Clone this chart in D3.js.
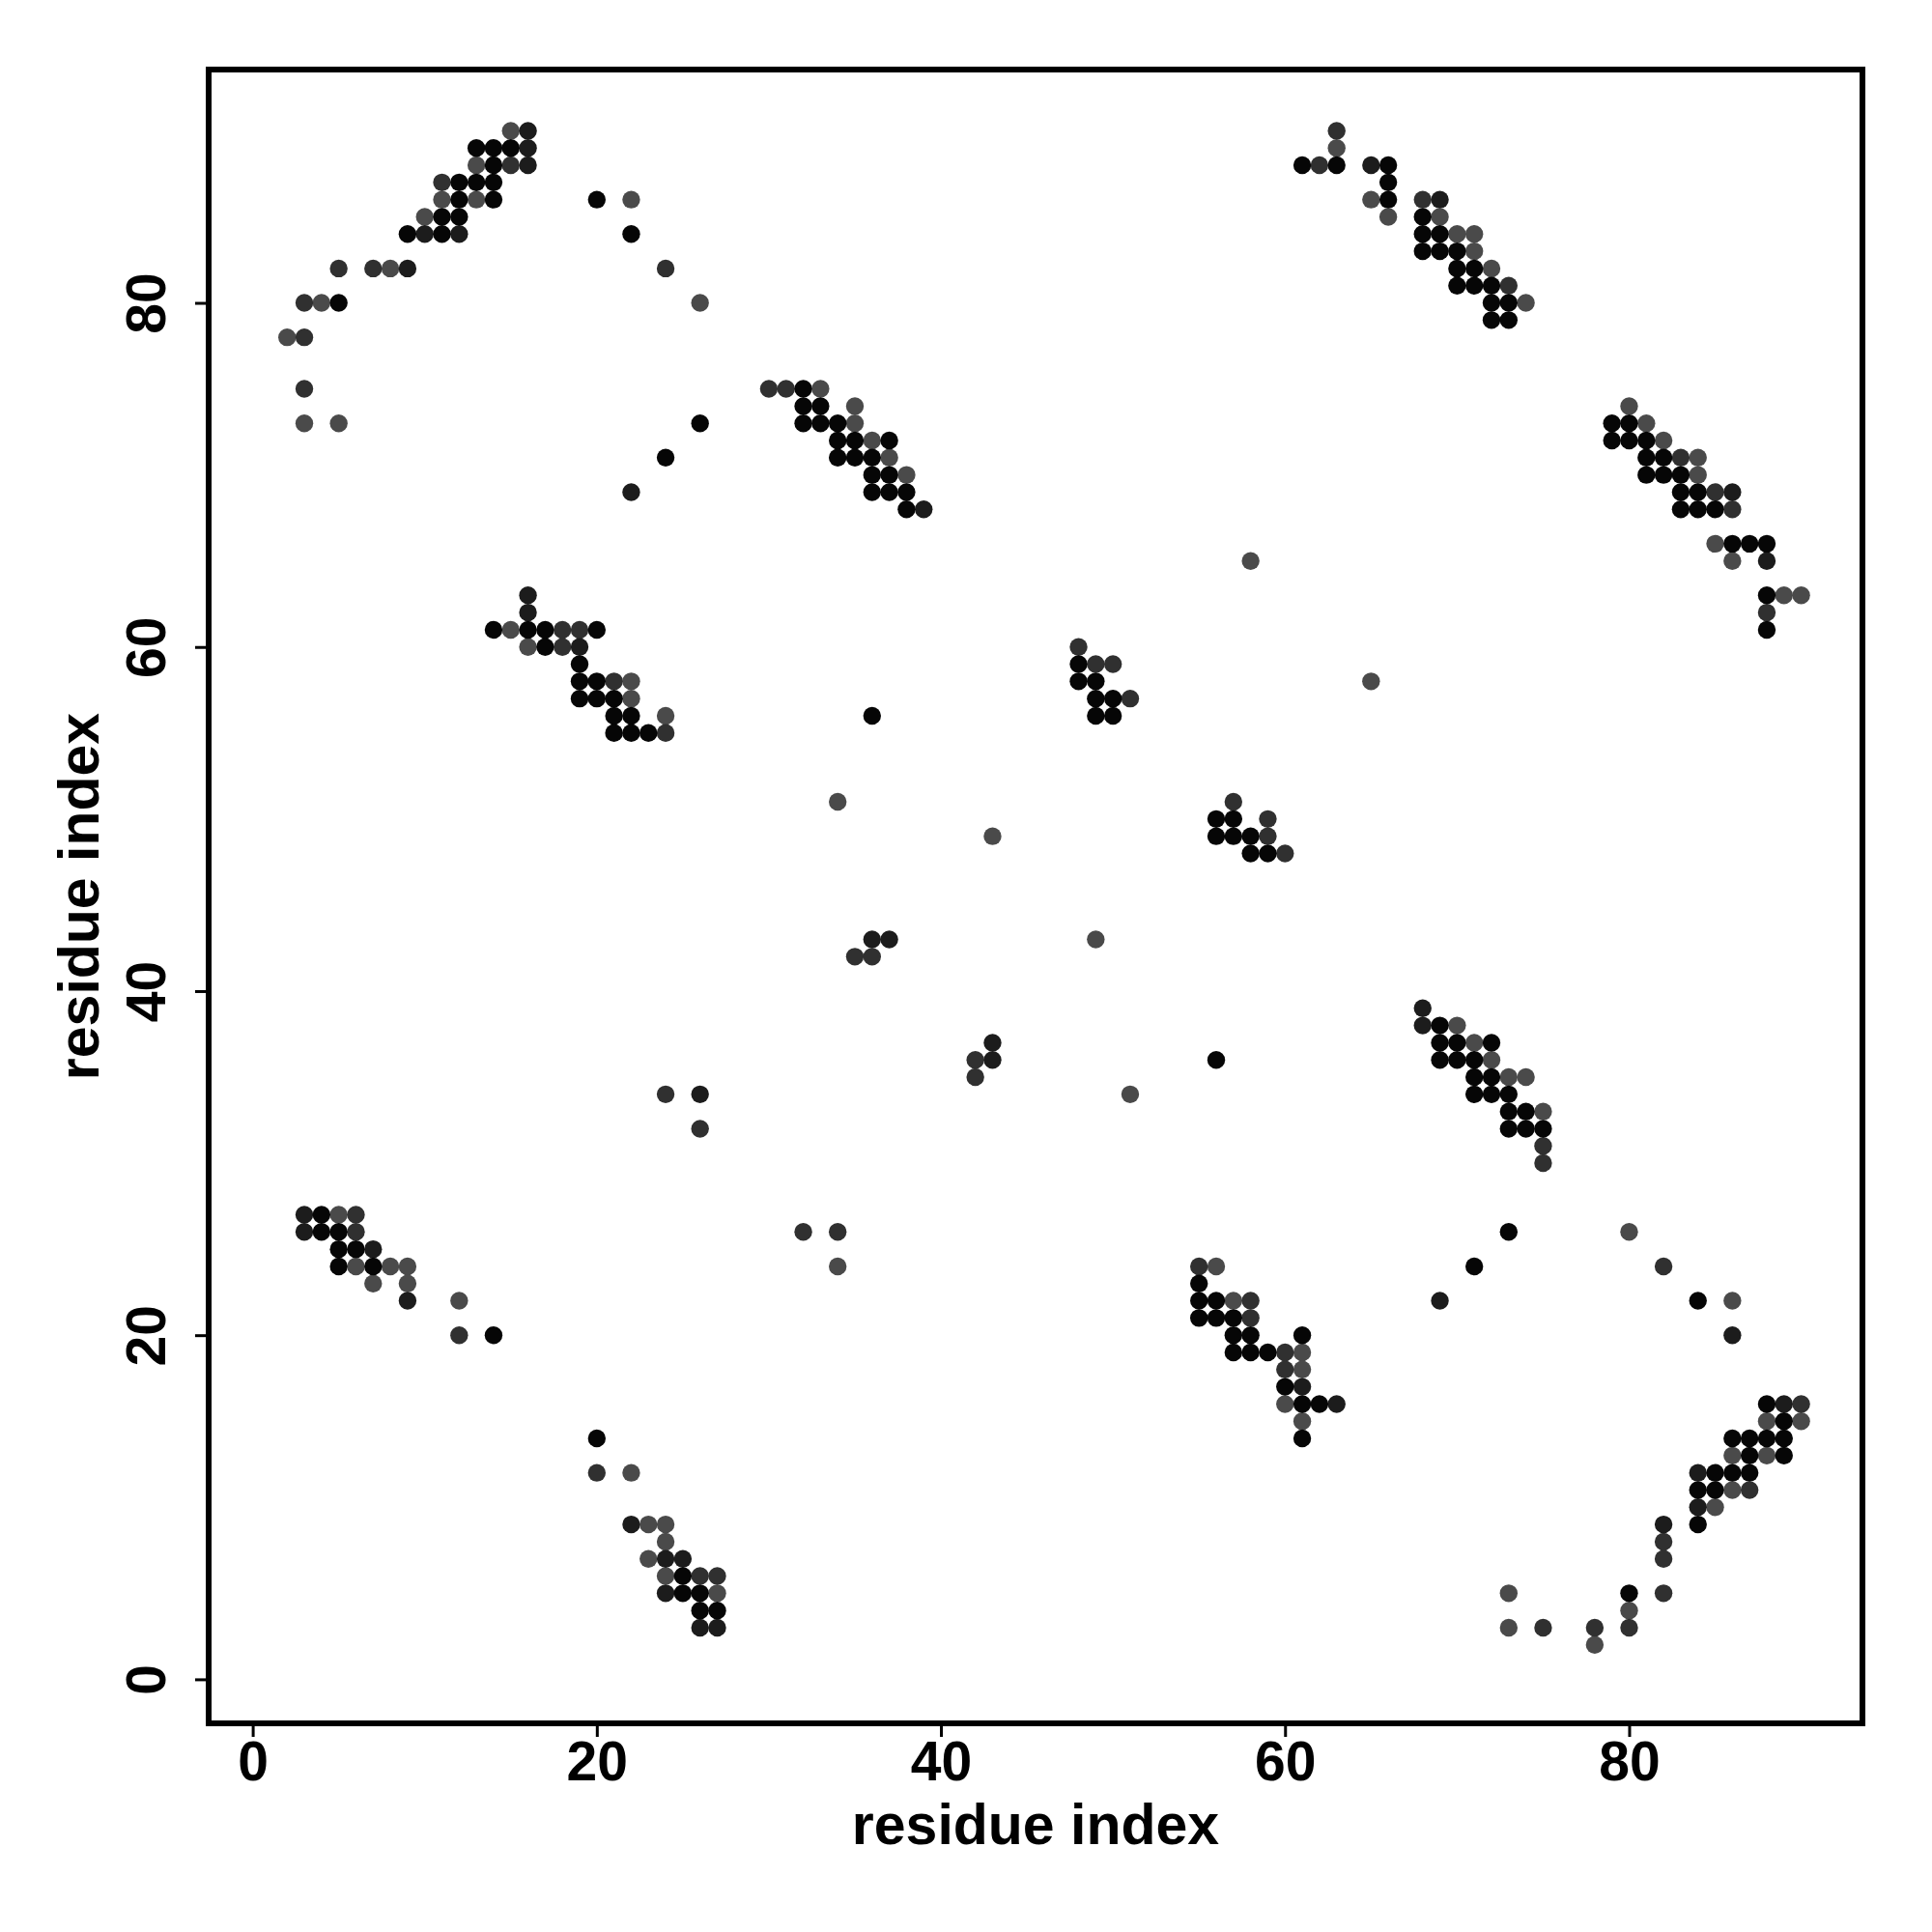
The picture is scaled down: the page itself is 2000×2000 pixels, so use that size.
<!DOCTYPE html>
<html>
<head>
<meta charset="utf-8">
<script src="https://cdn.jsdelivr.net/npm/d3@7"></script>
<style>
  html, body { margin: 0; padding: 0; background: #fff; }
  svg { display: block; }
  text { font-family: "Liberation Sans", Arial, Helvetica, sans-serif; font-weight: bold; }
</style>
</head>
<body>
<svg id="chart" width="2000" height="2000"></svg>
<script>
// ---- data: contacts (residue i, residue j) grouped by contact strength ----
const contactsBlack = [
  [13,89],[14,89],[15,89],[14,88],[12,87],[13,87],[14,87],[12,86],[14,86],[20,86],[11,85],[12,85],[9,84],[11,84],[22,84],[5,80],
  [32,75],[32,74],[33,74],[26,73],[32,73],[33,73],[34,73],[34,72],[35,72],[37,72],[24,71],[34,71],[35,71],[36,71],[36,70],[37,70],
  [36,69],[37,69],[38,69],[38,68],
  [14,61],[16,61],[17,61],[20,61],[17,60],[19,59],[19,58],[20,58],[19,57],[20,57],[21,57],[21,56],[22,56],[21,55],[22,55],[23,55],
  [4,27],[4,26],[5,26],[5,25],[6,25],[5,24],[7,24],[14,20],[20,14],[25,6],[25,5],[26,5],[26,4],[27,4],
  [61,88],[63,88],[48,59],[48,58],[49,58],[49,57],[50,57],[36,56],[49,56],[50,56],[56,50],[57,50],[56,49],[57,49],[58,49],[58,48],[59,48],[56,36],
  [66,88],[66,87],[66,86],[68,85],[68,84],[69,84],[68,83],[69,83],[70,83],[70,82],[71,82],[70,81],[71,81],[72,81],[72,80],[73,80],[72,79],[73,79],
  [79,73],[80,73],[79,72],[80,72],[81,72],[81,71],[82,71],[81,70],[82,70],[83,70],[83,69],[84,69],[83,68],[84,68],[85,68],[86,66],[87,66],[88,66],[88,63],[88,61],
  [69,38],[69,37],[70,37],[72,37],[69,36],[70,36],[71,36],[71,35],[72,35],[71,34],[72,34],[73,34],[73,33],[74,33],[73,32],[74,32],[75,32],
  [55,23],[55,22],[56,22],[55,21],[56,21],[57,21],[57,20],[58,20],[61,20],[57,19],[58,19],[59,19],[60,17],[61,16],[62,16],[61,14],
  [73,26],[71,24],[84,22],[88,16],[89,15],[86,14],[87,14],[88,14],[89,14],[87,13],[89,13],[85,12],[86,12],[87,12],[84,11],[85,11],[84,9],[80,5]
];
const contactsDark = [
  [16,90],[16,89],[16,88],[10,84],[12,84],[9,82],[22,69],[39,68],[16,63],[16,62],[19,60],[26,34],[3,27],[3,26],[7,25],[9,22],
  [22,9],[24,7],[25,7],[24,5],[26,3],[27,3],[36,43],[37,43],[43,37],[43,36],[65,88],[69,86],[86,69],[88,65],[68,39],[68,38],
  [61,17],[63,16],[69,22],[86,20],[89,16],[84,12],[84,10],[82,9]
];
const contactsMedium = [
  [15,88],[11,87],[5,82],[7,82],[24,82],[3,80],[3,78],[3,75],[30,75],[31,75],[18,61],[19,61],[18,60],[21,58],[24,55],[24,34],[26,32],
  [6,27],[6,26],[32,26],[34,26],[20,12],[12,20],[26,6],[27,6],[63,90],[62,88],[48,60],[49,59],[50,59],[51,57],[57,51],[59,50],[59,49],[60,48],
  [35,42],[36,42],[42,36],[42,35],[68,86],[73,81],[83,71],[85,69],[86,68],[88,62],[75,31],[75,30],[55,24],[58,22],[58,21],[60,19],[60,18],
  [82,24],[90,16],[87,11],[82,8],[82,7],[82,5],[75,3],[78,3],[80,3]
];
const contactsLight = [
  [15,90],[13,88],[11,86],[13,86],[22,86],[10,85],[8,82],[4,80],[26,80],[2,78],[33,75],[35,74],[3,73],[5,73],[35,73],[36,72],[37,71],[38,70],
  [15,61],[16,60],[22,58],[22,57],[24,56],[34,51],[5,27],[6,24],[8,24],[9,24],[34,24],[7,23],[9,23],[12,22],[22,12],[23,9],[24,9],[24,8],
  [23,7],[24,6],[27,5],[63,89],[58,65],[65,58],[43,49],[49,43],[51,34],[65,86],[66,85],[69,85],[70,84],[71,84],[71,83],[72,82],[74,80],
  [80,74],[81,73],[82,72],[84,71],[84,70],[85,66],[86,65],[89,63],[90,63],[70,38],[71,37],[72,36],[73,35],[74,35],[75,33],[56,24],[57,22],
  [61,19],[61,18],[60,16],[61,15],[80,26],[86,22],[88,15],[90,15],[86,13],[88,13],[86,11],[85,10],[73,5],[80,4],[73,3],[78,2]
];
const tickValues = [0, 20, 40, 60, 80];
const axisDomain = [-2.56, 93.56];
const xLabel = "residue index";
const yLabel = "residue index";

// ---- drawing ----
const svg = d3.select("#chart");
const frame = { left: 216, right: 1928, top: 72, bottom: 1784 };

const x = d3.scaleLinear().domain(axisDomain).range([frame.left, frame.right]);
const y = d3.scaleLinear().domain(axisDomain).range([frame.bottom, frame.top]);

svg.append("rect").attr("width", 2000).attr("height", 2000).attr("fill", "#fff");

const groups = [
  { data: contactsLight, color: "#4a4a4a" },
  { data: contactsMedium, color: "#303030" },
  { data: contactsDark, color: "#1c1c1c" },
  { data: contactsBlack, color: "#060606" }
];

const pts = svg.append("g");
groups.forEach(g => {
  pts.selectAll(null).data(g.data).enter().append("circle")
    .attr("cx", d => x(d[0]))
    .attr("cy", d => y(d[1]))
    .attr("r", 9.2)
    .attr("fill", g.color);
});

// axes
const xAxis = svg.append("g")
  .attr("transform", `translate(0,${frame.bottom})`)
  .call(d3.axisBottom(x).tickValues(tickValues).tickSize(14).tickPadding(5).tickFormat(d3.format("d")));
xAxis.select(".domain").remove();
xAxis.selectAll("line").attr("stroke", "#000").attr("stroke-width", 3);
xAxis.selectAll("text").attr("font-size", 57).attr("fill", "#000")
  .style("font-family", '"Liberation Sans", Arial, sans-serif').style("font-weight", "bold");

const yAxis = svg.append("g")
  .attr("transform", `translate(${frame.left},0)`)
  .call(d3.axisLeft(y).tickValues(tickValues).tickSize(14).tickFormat(d3.format("d")));
yAxis.select(".domain").remove();
yAxis.selectAll("line").attr("stroke", "#000").attr("stroke-width", 3);
yAxis.selectAll("text")
  .attr("x", -45).attr("y", 0).attr("dy", 0)
  .attr("text-anchor", "middle")
  .attr("transform", "rotate(-90,-45,0)")
  .attr("font-size", 57).attr("fill", "#000")
  .style("font-family", '"Liberation Sans", Arial, sans-serif').style("font-weight", "bold");

// frame
svg.append("rect")
  .attr("x", frame.left).attr("y", frame.top)
  .attr("width", frame.right - frame.left).attr("height", frame.bottom - frame.top)
  .attr("fill", "none").attr("stroke", "#000").attr("stroke-width", 6);

// axis titles
svg.append("text")
  .attr("x", (frame.left + frame.right) / 2).attr("y", 1909)
  .attr("text-anchor", "middle").attr("font-size", 59).attr("fill", "#000")
  .text(xLabel);

svg.append("text")
  .attr("transform", `translate(102,${(frame.top + frame.bottom) / 2}) rotate(-90)`)
  .attr("text-anchor", "middle").attr("font-size", 59).attr("fill", "#000")
  .text(yLabel);
</script>
</body>
</html>
